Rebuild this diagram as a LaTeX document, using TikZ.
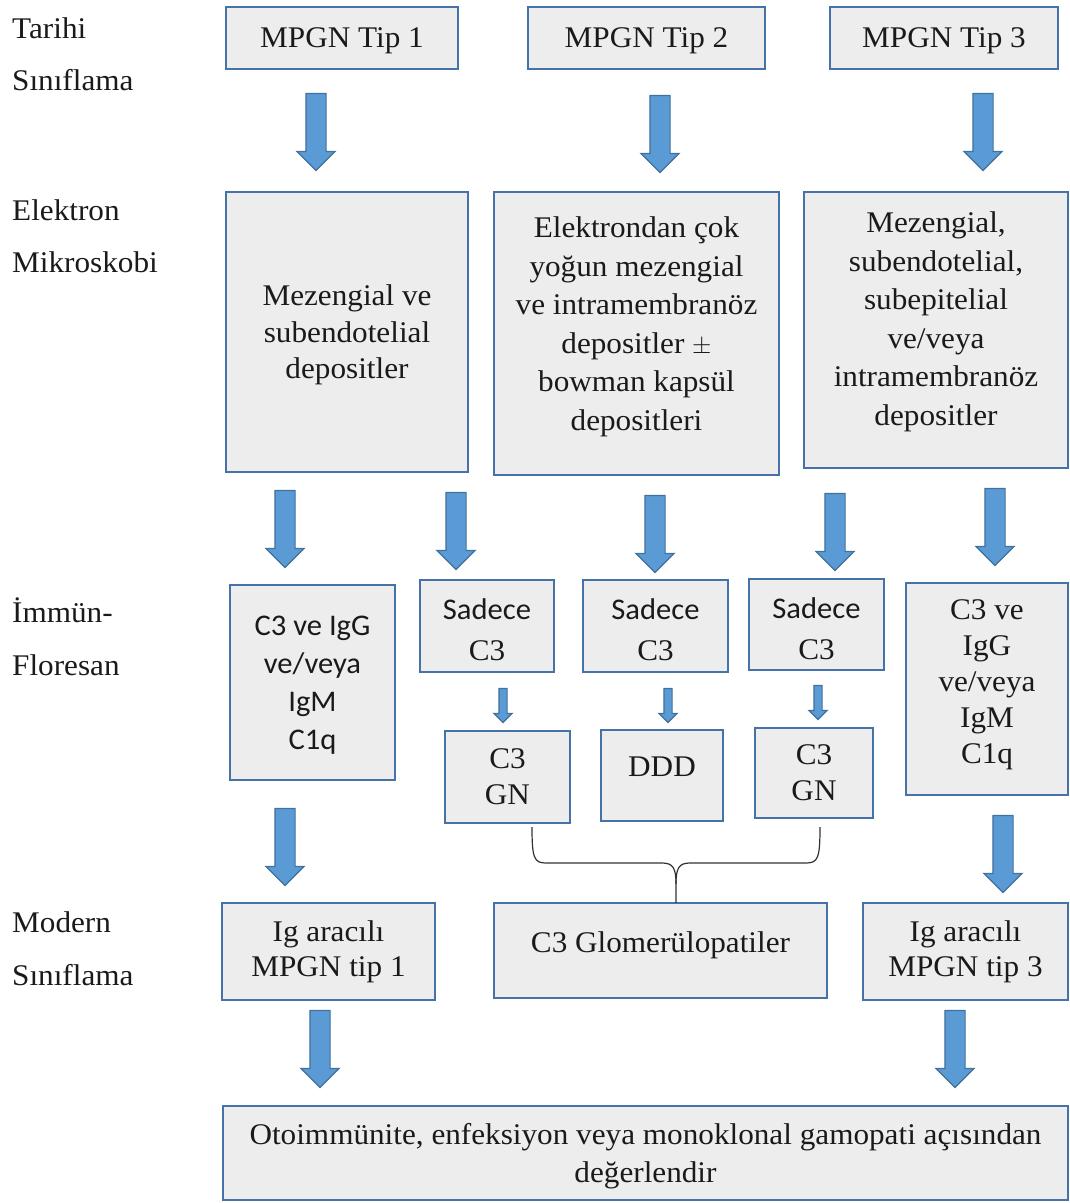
\documentclass[tikz,border=0pt]{standalone}
\usepackage{fontspec}
\setmainfont{Liberation Serif}[FakeStretch=1.04]
\newfontfamily\calibri{Carlito}[FakeStretch=1.02]
\usetikzlibrary{shapes.arrows}

\definecolor{boxfill}{HTML}{EDEDED}
\definecolor{boxline}{HTML}{4573A7}
\definecolor{arrfill}{HTML}{5B9BD5}
\definecolor{arrline}{HTML}{41719C}
\definecolor{txt}{HTML}{1A1A1A}

\begin{document}
\begin{tikzpicture}[x=1pt, y=-1pt,
	box/.style={draw=boxline, line width=2.5pt, fill=boxfill, align=center, text=txt, inner sep=0pt, font=\fontsize{30}{37}\selectfont},
	liftup/.style={text depth=#1},
	lbl/.style={anchor=base west, inner sep=0pt, text=txt, font=\fontsize{30}{37}\selectfont},
	bigarrow/.style={single arrow, draw=arrline, fill=arrfill, line width=1.2pt, shape border rotate=270, inner sep=9.5pt, minimum width=37pt, single arrow head extend=9pt, minimum height=77pt},
	smallarrow/.style={bigarrow, inner sep=3.5pt, minimum width=17pt, single arrow head extend=5pt, minimum height=34pt},
	brace/.style={draw=black!80, line width=1.2pt}]
	\useasboundingbox (0,0) rectangle (1070,1203);

	% row labels
	\node[lbl] (l1) at (12,38) {Tarihi};
	\node[lbl] (l2) at (12,90) {Sınıflama};
	\node[lbl] (l3) at (12,220) {Elektron};
	\node[lbl] (l4) at (12,272) {Mikroskobi};
	\node[lbl] (l5) at (12,622) {İmmün-};
	\node[lbl] (l6) at (12,675) {Floresan};
	\node[lbl] (l7) at (12,932) {Modern};
	\node[lbl] (l8) at (12,985) {Sınıflama};

	% historic classification
	\node[box, minimum width=232, minimum height=62, liftup=0pt] (t1) at (342,38) {MPGN Tip 1};
	\node[box, minimum width=237, minimum height=62, liftup=0pt] (t2) at (646.5,38) {MPGN Tip 2};
	\node[box, minimum width=228, minimum height=62, liftup=0pt] (t3) at (944,38) {MPGN Tip 3};

	% electron microscopy
	\node[box, minimum width=242, minimum height=280, font=\fontsize{30}{36.5}\selectfont, liftup=-3.5pt] (e1) at (347,332) {Mezengial ve\\subendotelial\\depositler};
	\node[box, minimum width=285, minimum height=283, font=\fontsize{30}{38.6}\selectfont, liftup=20pt] (e2) at (636.5,333.5) {Elektrondan çok\\yoğun mezengial\\ve intramembranöz\\depositler $\pm$\\bowman kapsül\\depositleri};
	\node[box, minimum width=264, minimum height=276, font=\fontsize{30}{38.6}\selectfont, liftup=23pt] (e3) at (936,330) {Mezengial,\\subendotelial,\\subepitelial\\ve/veya\\intramembranöz\\depositler};

	% immunofluorescence
	\node[box, minimum width=165, minimum height=195, font=\calibri\fontsize{30}{38}\selectfont, liftup=-3.5pt] (i1) at (312.5,682.5) {C3 ve IgG\\ve/veya\\IgM\\C1q};
	\node[box, minimum width=134, minimum height=92, text height=70pt] (s1) at (487,626) {{\calibri Sadece}\\[4pt]C3};
	\node[box, minimum width=145, minimum height=92, text height=70pt] (s2) at (655.5,626) {{\calibri Sadece}\\[4pt]C3};
	\node[box, minimum width=135, minimum height=91, text height=70pt] (s3) at (816.5,624.5) {{\calibri Sadece}\\[4pt]C3};
	\node[box, minimum width=162, minimum height=212, font=\fontsize{30}{36}\selectfont, liftup=14pt] (i5) at (987,689) {C3 ve\\IgG\\ve/veya\\IgM\\C1q};

	\node[box, minimum width=125, minimum height=92, font=\fontsize{30}{36}\selectfont] (g1) at (507.5,777) {C3\\GN};
	\node[box, minimum width=122, minimum height=91, liftup=18pt] (d1) at (662,775.5) {DDD};
	\node[box, minimum width=118, minimum height=90, font=\fontsize{30}{36}\selectfont] (g2) at (814,773) {C3\\GN};

	% modern classification
	\node[box, minimum width=213, minimum height=97, font=\fontsize{30}{35}\selectfont] (m1) at (328.5,951.5) {Ig aracılı\\MPGN tip 1};
	\node[box, minimum width=333, minimum height=95, liftup=17pt] (m2) at (660.5,950.5) {C3 Glomerülopatiler};
	\node[box, minimum width=205, minimum height=97, font=\fontsize{30}{35}\selectfont] (m3) at (965.5,951.5) {Ig aracılı\\MPGN tip 3};

	\node[box, minimum width=845, minimum height=94, font=\fontsize{30}{38}\selectfont, liftup=0pt] (f1) at (645.5,1153) {Otoimmünite, enfeksiyon veya monoklonal gamopati açısından\\değerlendir};

	% block arrows
	\foreach \x/\y [count=\i] in {316/127, 660/129, 983/127, 285/524, 456/526, 655/529, 835/527, 995/522, 285/842, 1003/849, 320/1044, 955/1044} {
		\node[bigarrow] (a\i) at (\x,\y) {};
	}
	\foreach \x/\y [count=\i] in {503/703.5, 668/703.5, 818/700.5} {
		\node[smallarrow] (b\i) at (\x,\y) {};
	}

	% brace to C3 glomerulopathies
	\coordinate (bl) at (532,827);
	\coordinate (br) at (820,827);
	\coordinate (bt) at (676,903);
	\draw[brace] (bl) .. controls (532,858) and (534,863) .. (546,863) -- (662,863)
		.. controls (673,863) and (676,868) .. (676,884) -- (bt);
	\draw[brace] (br) .. controls (820,858) and (818,863) .. (806,863) -- (690,863)
		.. controls (679,863) and (676,868) .. (676,884);
\end{tikzpicture}
\end{document}
